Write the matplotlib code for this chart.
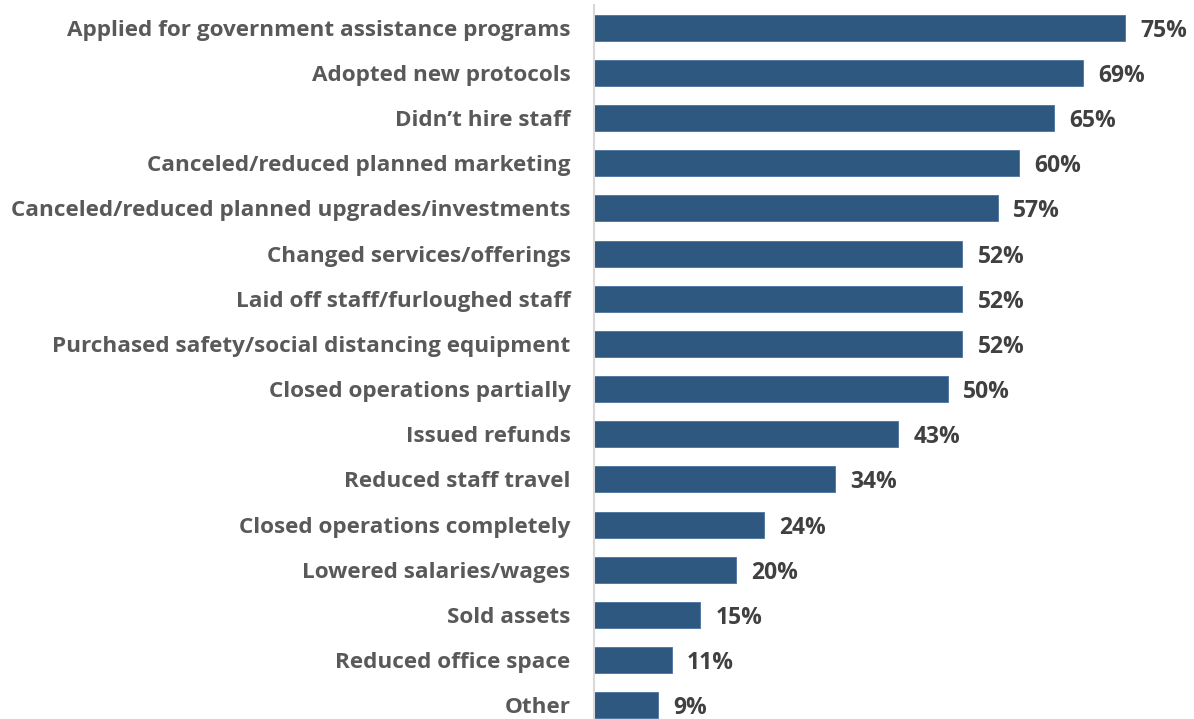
import matplotlib.pyplot as plt

# Responses (share of respondents, %)
actions = [
    "Applied for government assistance programs",
    "Adopted new protocols",
    "Didn\u2019t hire staff",
    "Canceled/reduced planned marketing",
    "Canceled/reduced planned upgrades/investments",
    "Changed services/offerings",
    "Laid off staff/furloughed staff",
    "Purchased safety/social distancing equipment",
    "Closed operations partially",
    "Issued refunds",
    "Reduced staff travel",
    "Closed operations completely",
    "Lowered salaries/wages",
    "Sold assets",
    "Reduced office space",
    "Other",
]
shares = [75, 69, 65, 60, 57, 52, 52, 52, 50, 43, 34, 24, 20, 15, 11, 9]

plt.rcParams['font.family'] = ['Open Sans', 'DejaVu Sans']

fig = plt.figure(figsize=(11.94, 7.19), dpi=100)
ax = fig.add_axes([594 / 1194, 0, 600 / 1194, 1])

y = list(range(len(actions)))
ax.barh(y, shares, height=0.575, color='#2E5880', edgecolor='#4A73A0', linewidth=0.6)

for yi, v in zip(y, shares):
    ax.annotate(f"{v}%", (v, yi), xytext=(11, 0), textcoords='offset points',
                va='center_baseline', ha='left', fontsize=16.5, fontweight='bold',
                color='#404040')

ax.set_xlim(0, 600 / 7.08)
ax.set_ylim(15.3, -0.61)
ax.set_yticks(y)
ax.set_yticklabels(actions, fontsize=16.2, fontweight='bold', color='#595959',
                   va='center_baseline')
ax.tick_params(axis='y', length=0, pad=17)
ax.set_xticks([])

for s in ['top', 'right', 'bottom']:
    ax.spines[s].set_visible(False)
ax.spines['left'].set_color('#D9D9D9')
ax.spines['left'].set_linewidth(1.5)
ax.spines['left'].set_bounds(15.3, -0.5)

fig.savefig('out.png', dpi=100)
